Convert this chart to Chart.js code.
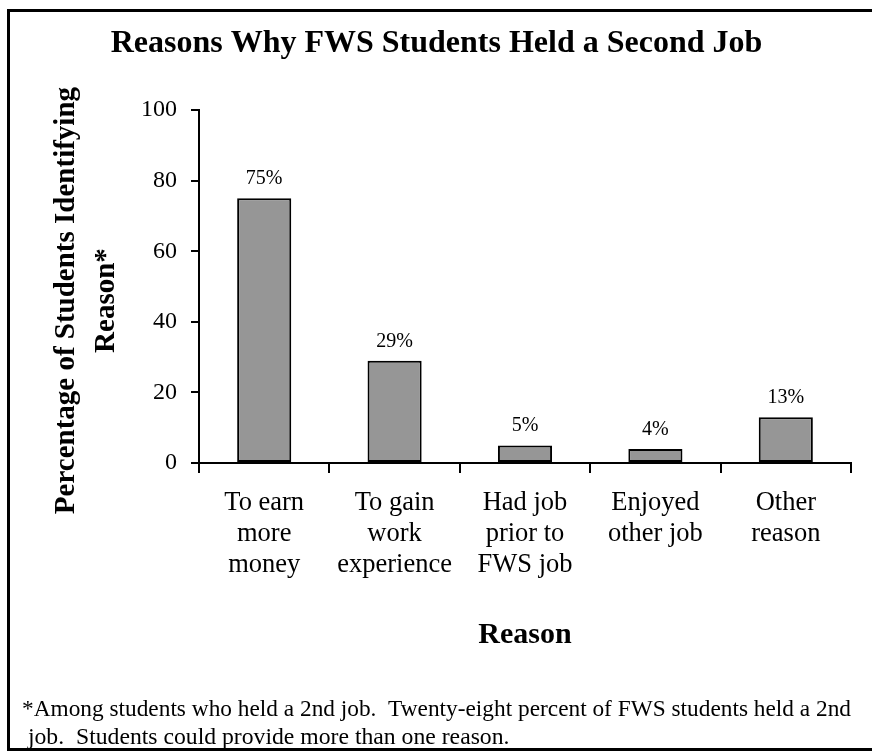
<!DOCTYPE html>
<html>
<head>
<meta charset="utf-8">
<title>Reasons Why FWS Students Held a Second Job</title>
<script src="https://cdn.jsdelivr.net/npm/chart.js@4.4.1/dist/chart.umd.min.js"></script>
<style>
    html, body { margin: 0; padding: 0; background: #ffffff; overflow: hidden; }
    #frame {
        position: absolute; left: 7px; top: 9px;
        width: 900px; height: 742px;
        border: 3px solid #000; box-sizing: border-box;
    }
    #chart { position: absolute; left: 0; top: 0; }
</style>
</head>
<body>
<div id="frame"></div>
<canvas id="chart" width="872" height="752"></canvas>
<script>
const reasons = [
    ['To earn', 'more', 'money'],
    ['To gain', 'work', 'experience'],
    ['Had job', 'prior to', 'FWS job'],
    ['Enjoyed', 'other job'],
    ['Other', 'reason']
];
const percentIdentifying = [75, 29, 5, 4, 13];
const yTicks = [0, 20, 40, 60, 80, 100];

const chartTitle = 'Reasons Why FWS Students Held a Second Job';
const yTitle = ['Percentage of Students Identifying', 'Reason*'];
const xTitle = 'Reason';
const footnote = [
    '*Among students who held a 2nd job.  Twenty-eight percent of FWS students held a 2nd',
    ' job.  Students could provide more than one reason.'
];

const serif = "'Liberation Serif', 'Times New Roman', Times, serif";

// draws "75%" etc above each bar
const barLabels = {
    id: 'barLabels',
    afterDatasetsDraw(chart) {
        const ctx = chart.ctx;
        const meta = chart.getDatasetMeta(0);
        ctx.save();
        ctx.font = '20px ' + serif;
        ctx.fillStyle = '#000';
        ctx.textAlign = 'center';
        ctx.textBaseline = 'alphabetic';
        meta.data.forEach((bar, i) => {
            ctx.fillText(percentIdentifying[i] + '%', bar.x, bar.y - 14);
        });
        ctx.restore();
    }
};

// y axis title sits a bit below the middle of the plot, so draw it by hand
const yAxisTitle = {
    id: 'yAxisTitle',
    afterDraw(chart) {
        const ctx = chart.ctx;
        const yScale = chart.scales.y;
        const midY = (yScale.top + yScale.bottom) / 2 + 14;
        ctx.save();
        ctx.font = 'bold 29px ' + serif;
        ctx.fillStyle = '#000';
        ctx.textAlign = 'center';
        ctx.textBaseline = 'middle';
        yTitle.forEach((line, i) => {
            ctx.save();
            ctx.translate(yScale.left + 45 + i * 40, midY);
            ctx.rotate(-Math.PI / 2);
            ctx.fillText(line, 0, 0);
            ctx.restore();
        });
        ctx.restore();
    }
};

const ctx = document.getElementById('chart').getContext('2d');
const chart = new Chart(ctx, {
    type: 'bar',
    data: {
        labels: reasons,
        datasets: [{
            data: percentIdentifying,
            backgroundColor: '#969696',
            borderColor: '#000',
            borderWidth: 2,
            borderSkipped: false,
            categoryPercentage: 1,
            barPercentage: 0.415
        }]
    },
    options: {
        responsive: false,
        animation: false,
        devicePixelRatio: 1,
        layout: { padding: { left: 22, right: 21, top: 0, bottom: 0 } },
        plugins: {
            legend: { display: false },
            tooltip: { enabled: false },
            title: {
                display: true,
                text: chartTitle,
                color: '#000',
                font: { family: serif, size: 32, weight: 'bold', lineHeight: 1.2 },
                padding: { top: 25, bottom: 46.6 }
            },
            subtitle: {
                display: true,
                position: 'bottom',
                align: 'start',
                text: footnote,
                color: '#000',
                font: { family: serif, size: 23.7, weight: 'normal', lineHeight: 1.2 },
                padding: { top: 32, bottom: 0 }
            }
        },
        scales: {
            x: {
                grid: {
                    drawOnChartArea: false,
                    drawTicks: true,
                    tickLength: 10,
                    color: '#000',
                    lineWidth: 2
                },
                border: { display: true, color: '#000', width: 2 },
                ticks: {
                    color: '#000',
                    padding: 14,
                    maxRotation: 0,
                    autoSkip: false,
                    font: { family: serif, size: 26.5, lineHeight: 1.17 }
                },
                title: {
                    display: true,
                    text: xTitle,
                    color: '#000',
                    font: { family: serif, size: 30, weight: 'bold', lineHeight: 1.2 },
                    padding: { top: 0, bottom: 10 }
                },
                afterFit(scale) { scale.height = 200; }
            },
            y: {
                min: 0,
                max: 100,
                afterBuildTicks(scale) { scale.ticks = yTicks.map(v => ({ value: v })); },
                grid: {
                    drawOnChartArea: false,
                    drawTicks: true,
                    tickLength: 8,
                    color: '#000',
                    lineWidth: 2
                },
                border: { display: true, color: '#000', width: 2 },
                ticks: {
                    color: '#000',
                    padding: 14,
                    font: { family: serif, size: 24 }
                },
                afterFit(scale) { scale.width = 177; }
            }
        }
    },
    plugins: [barLabels, yAxisTitle]
});
</script>
</body>
</html>
